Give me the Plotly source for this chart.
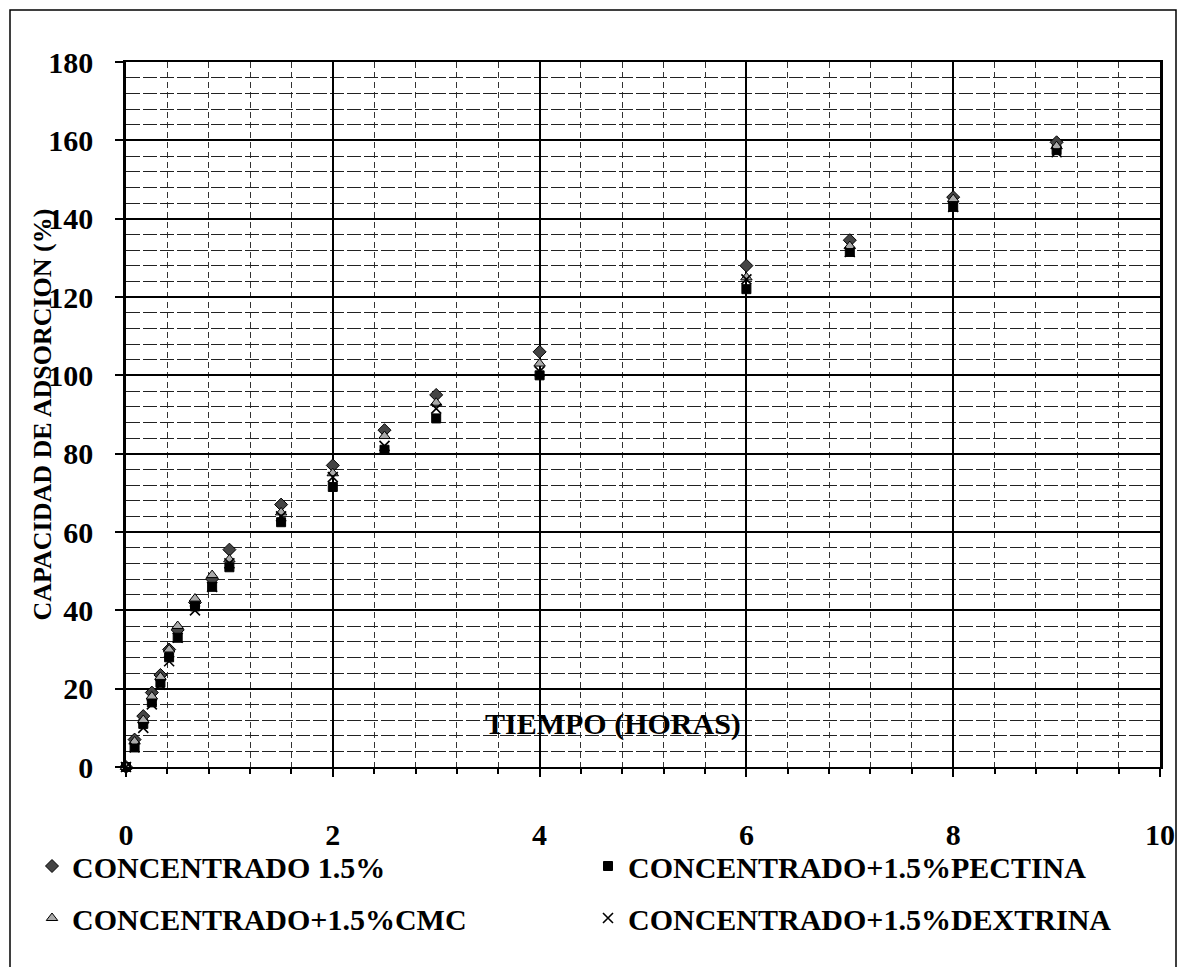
import plotly.graph_objects as go

# Time (hours) and adsorption capacity (%) for each formulation
tiempo = [0, 0.083, 0.167, 0.25, 0.333, 0.417, 0.5, 0.667, 0.833, 1, 1.5, 2, 2.5, 3, 4, 6, 7, 8, 9]
conc_15 = [0, 7, 13, 19, 23.5, 30, 35, 42, 48, 55.5, 67, 77, 86, 95, 106, 128, 134.5, 145.5, 159.5]
conc_pectina = [0, 5, 11, 16.5, 21.5, 28, 33, 41, 46, 51, 62.5, 71.5, 81, 89, 100, 122, 131.5, 143, 157.5]
conc_cmc = [0, 6.5, 12, 18, 23, 30, 36, 43, 49, 53, 65, 75, 84.5, 93, 103, 125, 133, 145, 158.5]
conc_dextrina = [0, 5, 10, 16, 21, 27, 33, 40, 46, 52, 64, 74, 82, 91.5, 101, 124.5, 131.5, 143, 157]

x_ticks = [0, 2, 4, 6, 8, 10]
y_ticks = [0, 20, 40, 60, 80, 100, 120, 140, 160, 180]

FONT = "Liberation Serif"
W, H = 1179, 967
ML, MR, MT, MB = 126, 19, 62, 200

fig = go.Figure()

series = [
    ("CONCENTRADO 1.5%", conc_15, dict(symbol="diamond", size=10, color="#444", line=dict(color="black", width=1)), "legend"),
    ("CONCENTRADO+1.5%PECTINA", conc_pectina, dict(symbol="square", size=9, color="black", line=dict(color="black", width=1)), "legend2"),
    ("CONCENTRADO+1.5%CMC", conc_cmc, dict(symbol="triangle-up", size=10, color="#aaa", line=dict(color="black", width=1)), "legend"),
    ("CONCENTRADO+1.5%DEXTRINA", conc_dextrina, dict(symbol="x-thin-open", size=10, color="black", line=dict(color="black", width=1.6)), "legend2"),
]
for i, (name, ys, mk, lg) in enumerate(series):
    fig.add_trace(go.Scatter(
        x=tiempo, y=ys, mode="markers", name=name, marker=mk,
        legend=lg, legendgroup=f"g{i}", cliponaxis=False,
    ))

plot_w = W - ML - MR
plot_h = H - MT - MB

def px_x(p):
    return (p - ML) / plot_w

def px_y(p):
    return (H - MB - p) / plot_h

tick_font = dict(family=FONT, size=30, color="black", weight="bold")
legend_font = dict(family=FONT, size=30, color="black", weight="bold")

fig.update_layout(
    width=W, height=H,
    margin=dict(l=ML, r=MR, t=MT, b=MB, autoexpand=False),
    paper_bgcolor="white", plot_bgcolor="white",
    showlegend=True,
    legend=dict(x=px_x(32), y=px_y(840), xanchor="left", yanchor="top",
                font=legend_font, tracegroupgap=10, bgcolor="rgba(0,0,0,0)",
                itemwidth=30),
    legend2=dict(x=px_x(588), y=px_y(840), xanchor="left", yanchor="top",
                 font=legend_font, tracegroupgap=10, bgcolor="rgba(0,0,0,0)",
                 itemwidth=30),
    xaxis=dict(
        range=[0, 10], tickvals=x_ticks, ticktext=[str(v) for v in x_ticks],
        showgrid=True, gridcolor="black", gridwidth=2,
        minor=dict(dtick=0.4, tick0=0, showgrid=True, gridcolor="#333", gridwidth=1,
                   griddash="6px,4px", ticks="outside", ticklen=5, tickcolor="black"),
        showline=True, linecolor="black", linewidth=2, mirror=True,
        ticks="outside", ticklen=8, tickcolor="black", tickwidth=1.5,
        zeroline=False, tickfont=tick_font, ticklabelstandoff=32,
    ),
    yaxis=dict(
        range=[0, 180], tickvals=y_ticks, ticktext=[str(v) for v in y_ticks],
        showgrid=True, gridcolor="black", gridwidth=2,
        minor=dict(dtick=4, tick0=0, showgrid=True, gridcolor="#222", gridwidth=1,
                   griddash="14px,3px"),
        showline=True, linecolor="black", linewidth=2.5, mirror=True,
        ticks="outside", ticklen=8, tickcolor="black", tickwidth=1.5,
        zeroline=False, tickfont=tick_font, ticklabelstandoff=16,
    ),
    annotations=[
        dict(text="CAPACIDAD DE ADSORCION (%)", xref="paper", yref="paper",
             x=px_x(42), y=0.5, xanchor="center", yanchor="middle",
             textangle=-90, showarrow=False,
             font=dict(family=FONT, size=26, color="black", weight="bold")),
        dict(text="TIEMPO (HORAS)", xref="paper", yref="paper",
             x=px_x(613), y=px_y(724), xanchor="center", yanchor="middle",
             showarrow=False,
             font=dict(family=FONT, size=30, color="black", weight="bold")),
    ],
    shapes=[
        dict(type="rect", xref="paper", yref="paper",
             x0=px_x(10), x1=px_x(1176), y0=px_y(990), y1=px_y(10),
             line=dict(color="black", width=1.5), fillcolor="rgba(0,0,0,0)", layer="below"),
    ],
)

fig.write_html("out.html")
